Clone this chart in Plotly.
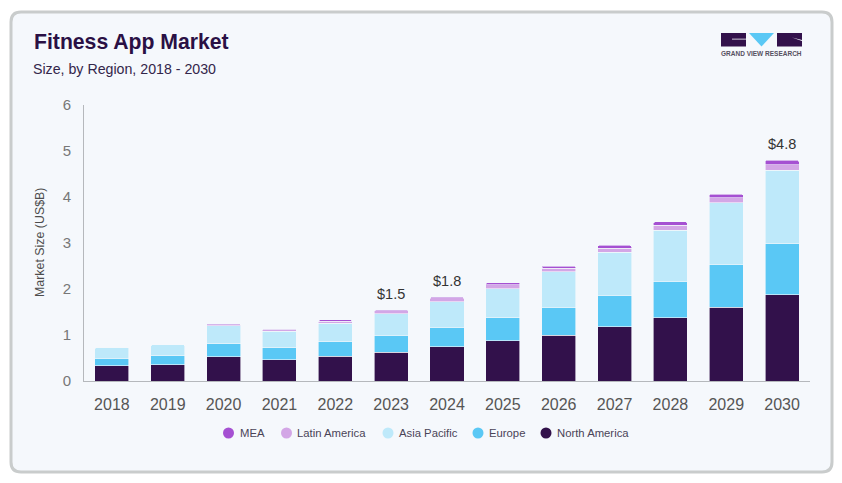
import plotly.graph_objects as go

W, H = 842, 483
years = [str(y) for y in range(2018, 2031)]
north_america = [0.33, 0.35, 0.53, 0.46, 0.54, 0.63, 0.74, 0.87, 1.00, 1.18, 1.37, 1.60, 1.88]
europe = [0.17, 0.20, 0.28, 0.26, 0.31, 0.37, 0.43, 0.50, 0.60, 0.68, 0.80, 0.94, 1.10]
asia_pacific = [0.23, 0.24, 0.39, 0.36, 0.41, 0.46, 0.55, 0.64, 0.77, 0.94, 1.11, 1.33, 1.60]
latin_america = [0.00, 0.00, 0.02, 0.03, 0.04, 0.065, 0.09, 0.08, 0.08, 0.09, 0.11, 0.11, 0.12]
mea = [0.00, 0.00, 0.03, 0.02, 0.03, 0.02, 0.02, 0.05, 0.05, 0.06, 0.07, 0.08, 0.10]
callouts = {"2023": "$1.5", "2024": "$1.8", "2030": "$4.8"}

series = [
    ("North America", north_america, "#32114b"),
    ("Europe", europe, "#5ac8f5"),
    ("Asia Pacific", asia_pacific, "#bee9fa"),
    ("Latin America", latin_america, "#d3a6e6"),
    ("MEA", mea, "#a550d2"),
]
# legend swatch centre and label start, left to right
legend_slots = {"MEA": (228.5, 240), "Latin America": (286.5, 297), "Asia Pacific": (388, 399),
                "Europe": (478, 489), "North America": (546, 557)}
FONT = "Liberation Sans"
CARD = "#f5f8fc"

fig = go.Figure()
for name, vals, col in series:
    fig.add_bar(x=years, y=vals, name=name, showlegend=False,
                marker=dict(color=col, line=dict(color=CARD, width=0.6)))

totals = [sum(s[1][i] for s in series) for i in range(len(years))]


def X(p):
    return p / W


def Y(p):
    return 1 - p / H


def card_path(x0, y0, x1, y1, r):
    return (f"M{X(x0+r)},{Y(y0)} L{X(x1-r)},{Y(y0)} Q{X(x1)},{Y(y0)} {X(x1)},{Y(y0+r)} "
            f"L{X(x1)},{Y(y1-r)} Q{X(x1)},{Y(y1)} {X(x1-r)},{Y(y1)} "
            f"L{X(x0+r)},{Y(y1)} Q{X(x0)},{Y(y1)} {X(x0)},{Y(y1-r)} "
            f"L{X(x0)},{Y(y0+r)} Q{X(x0)},{Y(y0)} {X(x0+r)},{Y(y0)} Z")


def poly(pts):
    return "M" + " L".join(f"{X(a)},{Y(b)}" for a, b in pts) + " Z"


def rect(x0, y0, x1, y1, col):
    return dict(type="rect", xref="paper", yref="paper", x0=X(x0), x1=X(x1), y0=Y(y0), y1=Y(y1),
                fillcolor=col, line=dict(width=0))


shapes = [
    dict(type="path", xref="paper", yref="paper", path=card_path(11, 12, 832, 472, 10),
         fillcolor=CARD, line=dict(color="#c9cccc", width=3), layer="below"),
    rect(721, 33, 746, 46.5, "#32114b"),
    rect(732, 38.7, 746, 39.5, CARD),
    dict(type="path", xref="paper", yref="paper", path=poly([(749, 33), (774, 33), (761.5, 46.5)]),
         fillcolor="#5ac8f5", line=dict(width=0)),
    rect(777, 33, 802, 46.5, "#32114b"),
    dict(type="path", xref="paper", yref="paper", path=poly([(792, 37.5), (802, 40), (802, 41)]),
         fillcolor=CARD, line=dict(width=0)),
]

annotations = [
    dict(text="<b>Fitness App Market</b>", x=X(32), y=Y(42), xref="paper", yref="paper",
         xanchor="left", yanchor="middle", showarrow=False,
         font=dict(family=FONT, size=21.2, color="#2a1045")),
    dict(text="Size, by Region, 2018 - 2030", x=X(31), y=Y(69), xref="paper", yref="paper",
         xanchor="left", yanchor="middle", showarrow=False,
         font=dict(family=FONT, size=14.2, color="#33264a")),
    dict(text="<b>GRAND VIEW RESEARCH</b>", x=X(761.5), y=Y(54), xref="paper", yref="paper",
         xanchor="center", yanchor="middle", showarrow=False,
         font=dict(family=FONT, size=6.5, color="#55505f")),
    dict(text="Market Size (US$B)", x=X(40), y=Y(243), xref="paper", yref="paper",
         xanchor="center", yanchor="middle", textangle=-90, showarrow=False,
         font=dict(family=FONT, size=12.4, color="#4d4d4d")),
]
for i, y in enumerate(years):
    if y in callouts:
        annotations.append(dict(text=callouts[y], x=i, y=totals[i], xref="x", yref="y",
                                xanchor="center", yanchor="bottom", yshift=6, showarrow=False,
                                font=dict(family=FONT, size=14.5, color="#333333")))
for name, vals, col in reversed(series):
    cx, tx = legend_slots[name]
    shapes.append(dict(type="circle", xref="paper", yref="paper", x0=X(cx - 5.5), x1=X(cx + 5.5),
                       y0=Y(433 + 5.5), y1=Y(433 - 5.5), fillcolor=col, line=dict(width=0)))
    annotations.append(dict(text=name, x=X(tx - 2), y=Y(433), xref="paper", yref="paper",
                            xanchor="left", yanchor="middle", showarrow=False,
                            font=dict(family=FONT, size=11.3, color="#4a4458")))

fig.update_layout(
    width=W, height=H, autosize=False,
    margin=dict(l=0, r=0, t=0, b=0),
    paper_bgcolor="#ffffff", plot_bgcolor="rgba(0,0,0,0)",
    barmode="stack", bargap=0.39, barcornerradius=2,
    font=dict(family=FONT), showlegend=False,
    shapes=shapes, annotations=annotations,
    xaxis=dict(domain=[84 / W, 810 / W], type="category", categoryorder="array", categoryarray=years,
               range=[-0.5, 12.5],
               showgrid=False, showline=True, linecolor="#b5b8bc", linewidth=1,
               ticks="outside", ticklen=9, tickcolor="rgba(0,0,0,0)",
               tickfont=dict(family=FONT, size=16, color="#555555"), automargin=False),
    yaxis=dict(domain=[1 - 381 / H, 1 - 105 / H], range=[0, 6], tickvals=[0, 1, 2, 3, 4, 5, 6],
               showgrid=False, showline=True, linecolor="#b5b8bc", linewidth=1, zeroline=False,
               ticks="outside", ticklen=9, tickcolor="rgba(0,0,0,0)",
               tickfont=dict(family=FONT, size=15, color="#777777"), automargin=False),
)
fig.write_html("out.html", config={"displayModeBar": False},
               post_script="document.body.style.margin='0';document.documentElement.style.overflow='hidden';")
